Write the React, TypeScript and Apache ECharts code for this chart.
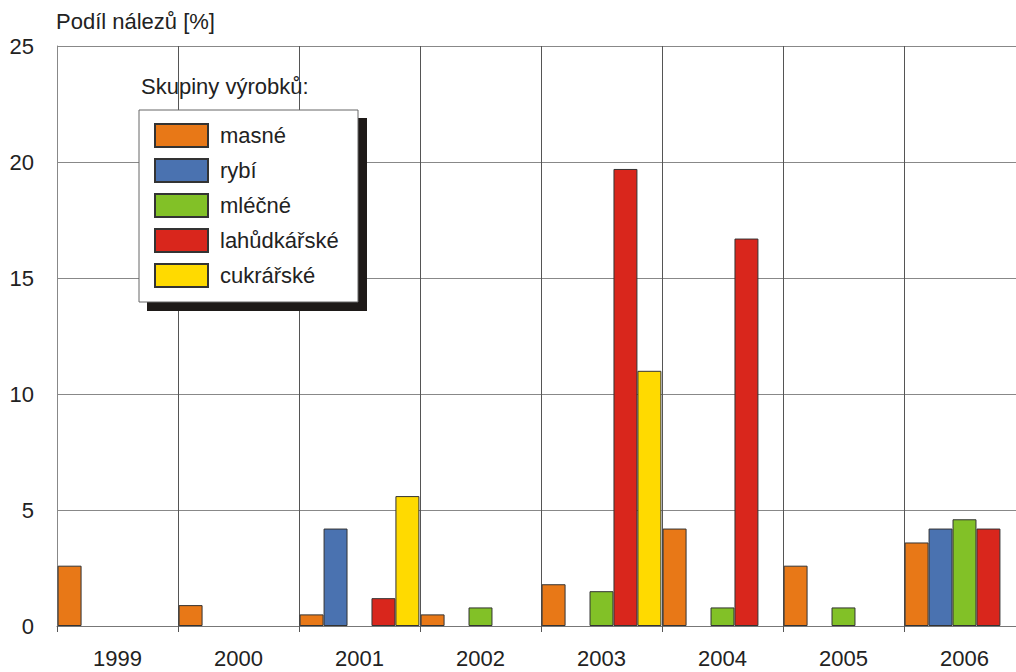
import React, { useEffect, useRef } from "react";
import * as echarts from "echarts";

const categories = ["1999", "2000", "2001", "2002", "2003", "2004", "2005", "2006"];
const seriesNames = ["masné", "rybí", "mléčné", "lahůdkářské", "cukrářské"];
const masne = [2.6, 0.9, 0.5, 0.5, 1.8, 4.2, 2.6, 3.6];
const rybi = [null, null, 4.2, null, null, null, null, 4.2];
const mlecne = [null, null, null, 0.8, 1.5, 0.8, 0.8, 4.6];
const lahudkarske = [null, null, 1.2, null, 19.7, 16.7, null, 4.2];
const cukrarske = [null, null, 5.6, null, 11.0, null, null, null];
const colors = ["#E87817", "#4A72B0", "#82C127", "#D9261C", "#FFDA00"];
const yTicks = { min: 0, max: 25, interval: 5 };

const FONT = "'Liberation Sans', Arial, sans-serif";

export default function App() {
  const ref = useRef<HTMLDivElement>(null);
  useEffect(() => {
    if (!ref.current) return;
    const chart = echarts.init(ref.current, null, { renderer: "svg" });
    const data = [masne, rybi, mlecne, lahudkarske, cukrarske];
    chart.setOption({
      animation: false,
      textStyle: { fontFamily: FONT },
      grid: { left: 57, top: 46, bottom: 46, width: 968, containLabel: false, outerBoundsMode: "none" },
      xAxis: {
        type: "category",
        data: categories,
        boundaryGap: true,
        axisLine: { show: true, lineStyle: { color: "#777", width: 1 } },
        axisTick: { show: true, length: 6, alignWithLabel: false, lineStyle: { color: "#555" } },
        splitLine: { show: true, lineStyle: { color: "#555", width: 1 } },
        axisLabel: { color: "#222", fontSize: 22, margin: 21, fontFamily: FONT },
      },
      yAxis: {
        type: "value",
        min: yTicks.min,
        max: yTicks.max,
        interval: yTicks.interval,
        name: "Podíl nálezů [%]",
        nameLocation: "end",
        nameGap: 14,
        nameTextStyle: { color: "#222", fontSize: 22, align: "left", padding: [0, 0, 0, -1], fontFamily: FONT },
        axisLine: { show: true, lineStyle: { color: "#888", width: 1 } },
        axisTick: { show: false },
        splitLine: { show: true, lineStyle: { color: "#888", width: 1 } },
        axisLabel: { color: "#222", fontSize: 22, margin: 23, fontFamily: FONT },
      },
      legend: {
        orient: "vertical",
        left: 154,
        top: 123,
        padding: 0,
        itemWidth: 53,
        itemHeight: 23,
        itemGap: 10,
        icon: "rect",
        z: 10,
        textStyle: { color: "#222", fontSize: 22, lineHeight: 23, padding: [0, 0, 0, 7], fontFamily: FONT },
        data: seriesNames,
      },
      graphic: [
        {
          type: "rect",
          z: 5,
          shape: { x: 147, y: 118, width: 220, height: 193 },
          style: { fill: "#1e1a18" },
        },
        {
          type: "rect",
          z: 6,
          shape: { x: 139, y: 110, width: 219, height: 192 },
          style: { fill: "#fff", stroke: "#666", lineWidth: 1 },
        },
        {
          type: "text",
          z: 6,
          x: 141,
          y: 86,
          style: {
            text: "Skupiny výrobků:",
            fill: "#222",
            fontSize: 22,
            fontFamily: FONT,
            verticalAlign: "middle",
          },
        },
      ],
      series: seriesNames.map((name, i) => ({
        name,
        type: "bar",
        data: data[i],
        barGap: "0%",
        barCategoryGap: "1%",
        itemStyle: { color: colors[i], borderColor: "#333", borderWidth: 1 },
      })),
    });
    return () => chart.dispose();
  }, []);
  return <div ref={ref} style={{ width: 1016, height: 672, position: "absolute", left: 0, top: 0 }} />;
}
